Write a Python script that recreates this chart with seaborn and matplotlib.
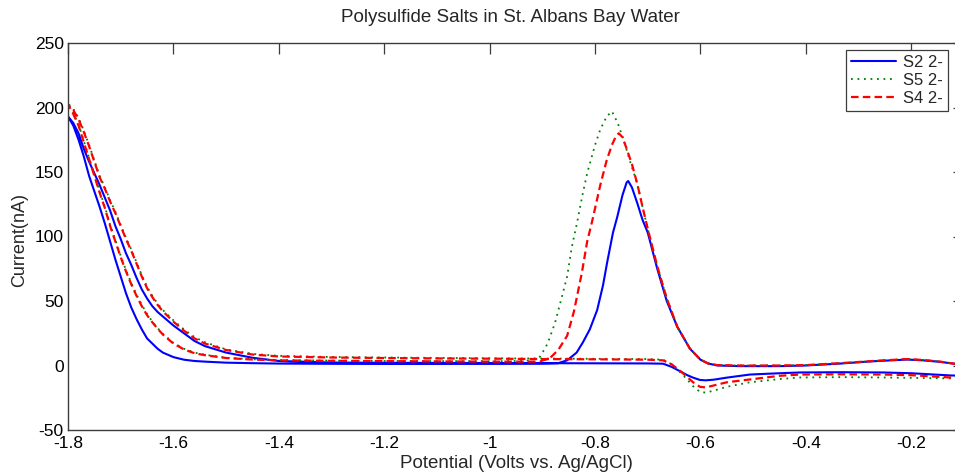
import matplotlib
matplotlib.use("Agg")
import matplotlib.pyplot as plt
import seaborn as sns
import pandas as pd

# Potential grid shared by the left (hydrogen-evolution) part of every branch, V
v_left = [-1.80, -1.79, -1.78, -1.77, -1.76, -1.75, -1.74, -1.73, -1.72, -1.71,
          -1.70, -1.69, -1.68, -1.67, -1.66, -1.65, -1.64, -1.63, -1.62,
          -1.60, -1.58, -1.56, -1.54, -1.50, -1.45, -1.40]

# ---- S2 2- : cathodic scan (with reduction peak) ----
s2_fwd_v_tail = [-1.30, -1.20, -1.10, -1.00, -0.95, -0.90, -0.87, -0.853, -0.835, -0.823,
                 -0.810, -0.796, -0.785, -0.777, -0.766, -0.758, -0.748, -0.740, -0.737,
                 -0.730, -0.720, -0.710, -0.700, -0.682, -0.664, -0.644, -0.620, -0.600,
                 -0.585, -0.568, -0.525, -0.450, -0.400, -0.335, -0.272, -0.208, -0.178,
                 -0.145, -0.117, -0.100]
s2_fwd_i = [193, 186, 175, 162, 147, 135, 123, 110, 96, 82,
            69, 56, 45, 36, 28, 21, 17, 13, 10,
            6.5, 4.5, 3.5, 3.0, 2.2, 1.8, 1.5,
            1.3, 1.2, 1.2, 1.3, 1.4, 1.5, 1.8, 4, 10, 18,
            28, 43, 62, 80, 103, 115, 132, 142, 143,
            138, 126, 113, 103, 75, 50, 30, 13, 4.5,
            1.5, 0, -0.5, -0.5, 0, 1.5, 3.3, 4.6, 4.0,
            2.8, 1.3, 0.5]

# ---- S4 2- : cathodic scan ----
s4_fwd_v_tail = [-1.30, -1.20, -1.10, -1.00, -0.95, -0.905, -0.885, -0.870, -0.853, -0.840,
                 -0.825, -0.815, -0.806, -0.790, -0.778, -0.768, -0.760, -0.755, -0.748,
                 -0.740, -0.730, -0.720, -0.710, -0.700, -0.682, -0.664, -0.644, -0.620,
                 -0.600, -0.585, -0.568, -0.525, -0.450, -0.400, -0.335, -0.272, -0.208,
                 -0.178, -0.145, -0.117, -0.100]
s4_fwd_i = [202, 195, 186, 173, 160, 147, 134, 122, 108, 96,
            84, 73, 63, 54, 46, 39, 33.5, 28.5, 24,
            17, 12.5, 9.5, 8, 5.8, 4.6, 4.0,
            3.6, 3.4, 3.2, 3.0, 3.0, 3.0, 6, 12, 23, 42,
            72, 96, 111, 140, 159, 171, 178, 180, 177,
            168, 156, 141, 123, 106, 77, 52, 30, 13,
            4.5, 1.5, 0.3, 0, 0, 0.3, 1.8, 3.5, 5.0,
            4.3, 3.0, 1.3, 0.3]

# ---- S5 2- : cathodic scan ----
s5_fwd_v_tail = [-1.30, -1.20, -1.10, -1.00, -0.95, -0.925, -0.904, -0.890, -0.876, -0.865,
                 -0.853, -0.844, -0.834, -0.825, -0.815, -0.800, -0.790, -0.778, -0.768,
                 -0.757, -0.745, -0.735, -0.720, -0.710, -0.700, -0.682, -0.664, -0.644,
                 -0.620, -0.600, -0.585, -0.568, -0.525, -0.450, -0.400, -0.335, -0.272,
                 -0.208, -0.178, -0.145, -0.117, -0.100]
s5_fwd_i = [202, 196, 187, 174, 161, 148, 135, 123, 109, 97,
            85, 74, 64, 55, 47, 40, 34, 29, 24.5,
            17.5, 13, 10, 8.3, 6, 4.8, 4.2,
            3.8, 3.5, 3.4, 3.3, 3.5, 3.8, 7, 17, 33, 50,
            69, 92, 111, 130, 149, 171, 183, 193, 197,
            188, 174, 160, 141, 123, 106, 77, 52, 30,
            13, 4.5, 1.5, 0.3, 0, 0, 0.3, 1.8, 3.5,
            5.0, 4.3, 3.0, 1.3, 0.3]

# ---- anodic (return) scans, common potential grid ----
rev_v_tail = [-1.30, -1.20, -1.10, -1.00, -0.90, -0.80, -0.70, -0.671, -0.655, -0.639,
              -0.625, -0.614, -0.601, -0.590, -0.575, -0.550, -0.506, -0.450, -0.411,
              -0.330, -0.254, -0.200, -0.126, -0.100]
s2_rev_i = [193, 188, 180, 168, 158, 149, 140, 130, 120, 108,
            98, 87, 78, 68, 59, 52, 46, 41.5, 38,
            31, 25, 19, 15, 10, 6, 3.5,
            2.3, 2.1, 2.0, 1.9, 1.8, 1.7, 1.6, 1.4, -1, -4.4,
            -7.5, -9.4, -11.2, -11.5, -11, -9.4, -7, -6, -5.4,
            -5.2, -5.4, -6, -7.7, -8]
s4_rev_i = [202, 198, 191, 181, 170, 158, 146, 137, 127, 118,
            108, 98, 89, 79, 69, 60, 53, 47, 42,
            34, 27, 21, 17, 12, 8.5, 7,
            6.2, 5.8, 5.5, 5.3, 5.0, 4.8, 4.5, 4.0, 1, -4,
            -9, -13, -16.5, -17, -15.5, -13, -10.8, -8, -7,
            -6.8, -7, -7.5, -9.3, -9.6]
s5_rev_i = [203, 199, 192, 182, 171, 159, 147, 138, 128, 119,
            109, 99, 90, 80, 70, 61, 54, 48, 43,
            35, 28, 22, 18, 12.5, 9, 7.5,
            6.6, 6.2, 5.9, 5.6, 5.4, 5.2, 5.0, 4.5, 1, -5,
            -11, -16, -20.5, -21, -19.5, -16.5, -13, -10.5, -9.3,
            -9, -9.3, -9.6, -10, -10.3]

series_names = ["S2 2-", "S5 2-", "S4 2-"]
x_ticks = [-1.8, -1.6, -1.4, -1.2, -1.0, -0.8, -0.6, -0.4, -0.2]
x_tick_labels = ["-1.8", "-1.6", "-1.4", "-1.2", "-1", "-0.8", "-0.6", "-0.4", "-0.2"]
y_ticks = [-50, 0, 50, 100, 150, 200, 250]
y_tick_labels = ["-50", "0", "50", "100", "150", "200", "250"]


def cycle_frame(fwd_v, fwd_i, rev_v, rev_i):
    """Full voltammetric cycle: cathodic sweep (-0.1 -> -1.8) then the return sweep."""
    v = list(reversed(fwd_v)) + list(rev_v)
    i = list(reversed(fwd_i)) + list(rev_i)
    return pd.DataFrame({"order": range(len(v)), "Potential": v, "Current": i})


rev_v = v_left + rev_v_tail
cycles = {
    "S2 2-": cycle_frame(v_left + s2_fwd_v_tail, s2_fwd_i, rev_v, s2_rev_i),
    "S5 2-": cycle_frame(v_left + s5_fwd_v_tail, s5_fwd_i, rev_v, s5_rev_i),
    "S4 2-": cycle_frame(v_left + s4_fwd_v_tail, s4_fwd_i, rev_v, s4_rev_i),
}
styles = {
    "S2 2-": dict(color="#0000ff", linestyle="-", linewidth=1.5),
    "S5 2-": dict(color="#008000", linestyle=(0, (1, 2.6)), linewidth=1.3),
    "S4 2-": dict(color="#ff0000", linestyle=(0, (3.4, 1.9)), linewidth=1.6),
}

sns.set_style("white")
plt.rcParams["font.family"] = ["Liberation Sans", "DejaVu Sans"]
plt.rcParams["axes.unicode_minus"] = False

W, H = 955, 476
fig = plt.figure(figsize=(W / 100, H / 100), dpi=100)
ax = fig.add_axes([68 / W, 46 / H, (964 - 68) / W, 387 / H])

for name in series_names:
    sns.lineplot(data=cycles[name], x="Potential", y="Current", sort=False,
                 estimator=None, ax=ax, label=name, **styles[name])

ax.set_xlim(-1.8, -0.1)
ax.set_ylim(-50, 250)
ax.set_xticks(x_ticks)
ax.set_xticklabels(x_tick_labels)
ax.set_yticks(y_ticks)
ax.set_yticklabels(y_tick_labels)
ax.set_xlabel("")
ax.set_ylabel("")

for side in ["left", "right", "top", "bottom"]:
    ax.spines[side].set_visible(True)
    ax.spines[side].set_color("#3c3c3c")
    ax.spines[side].set_linewidth(1.0)
ax.tick_params(axis="both", which="major", direction="in", length=8, width=0.9,
               color="#3c3c3c", labelsize=12.5, labelcolor="black",
               top=True, right=True)
ax.tick_params(axis="x", pad=4.5)
ax.tick_params(axis="y", pad=3)

fig.text(510 / W, 1 - 18 / H, "Polysulfide Salts in St. Albans Bay Water",
         ha="center", va="center", fontsize=13.5)
fig.text(516 / W, 1 - 463 / H, "Potential (Volts vs. Ag/AgCl)",
         ha="center", va="center", fontsize=13.5)
fig.text(20 / W, 1 - 240 / H, "Current(nA)", rotation=90,
         ha="center", va="center", fontsize=13)

leg = ax.legend(loc="upper right", bbox_to_anchor=(948 / W, 1 - 50 / H),
                bbox_transform=fig.transFigure, fontsize=12, frameon=True,
                fancybox=False, framealpha=1, edgecolor="#3c3c3c",
                handlelength=2.7, handletextpad=0.4, labelspacing=0.18,
                borderpad=0.3, borderaxespad=0)
leg.get_frame().set_linewidth(0.9)

fig.savefig("out.png", dpi=100)
